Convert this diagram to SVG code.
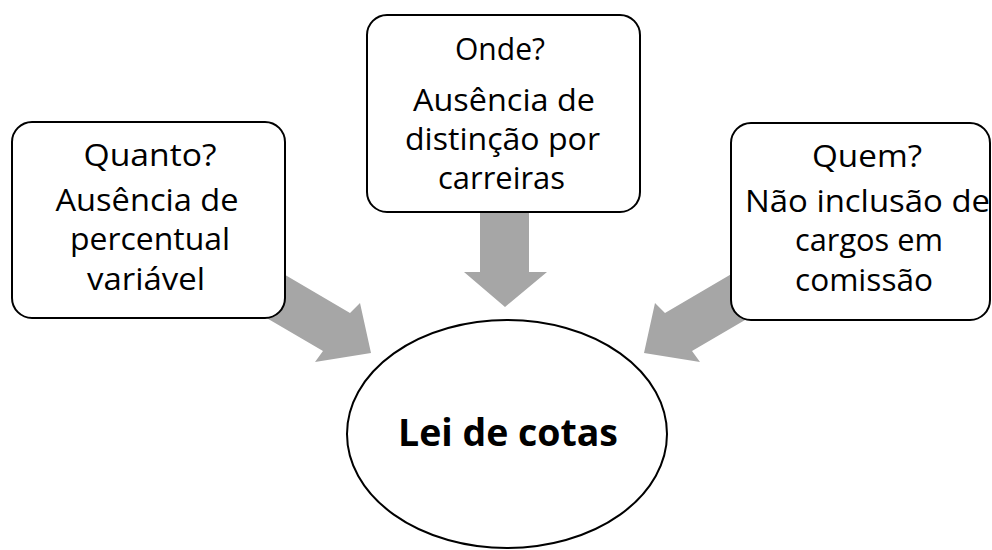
<svg xmlns="http://www.w3.org/2000/svg" width="992" height="550" viewBox="0 0 992 550">
<style>
.box{fill:#ffffff;stroke:#000000;stroke-width:2}
.arrow{fill:#a6a6a6;stroke:none}
.t{font-family:"Open Sans","Noto Sans","Liberation Sans",sans-serif;font-size:31px;fill:#000000;text-anchor:middle}
.b{font-family:"Open Sans","Noto Sans","Liberation Sans",sans-serif;font-size:37px;font-weight:bold;fill:#000000;text-anchor:middle}
</style>
<rect width="992" height="550" fill="#ffffff"/>
<g id="connectors">
<polygon class="arrow" points="258,259 350,313 360,303 371,353 315,362 323,351 258,313"/>
<polygon class="arrow" points="480,205 529,205 529,272 547,272 505,307 464,272 480,272"/>
<polygon class="arrow" points="757,259 665,313 655,303 644,353 700,362 692,351 757,313"/>
</g>
<g id="node-quanto">
<rect class="box" x="12" y="122" width="273" height="196" rx="20" ry="20"/>
<text class="t" x="150" y="166" textLength="133" lengthAdjust="spacingAndGlyphs">Quanto?</text>
<text class="t" x="147" y="211" textLength="183" lengthAdjust="spacingAndGlyphs">Ausência de</text>
<text class="t" x="150" y="250" textLength="160" lengthAdjust="spacingAndGlyphs">percentual</text>
<text class="t" x="146" y="290" textLength="118" lengthAdjust="spacingAndGlyphs">variável</text>
</g>
<g id="node-onde">
<rect class="box" x="367" y="15" width="273" height="197" rx="20" ry="20"/>
<text class="t" x="500" y="60" textLength="90" lengthAdjust="spacingAndGlyphs">Onde?</text>
<text class="t" x="504" y="111" textLength="182" lengthAdjust="spacingAndGlyphs">Ausência de</text>
<text class="t" x="502.5" y="150" textLength="195" lengthAdjust="spacingAndGlyphs">distinção por</text>
<text class="t" x="501.5" y="189" textLength="127" lengthAdjust="spacingAndGlyphs">carreiras</text>
</g>
<g id="node-quem">
<rect class="box" x="731" y="123" width="259" height="197" rx="20" ry="20"/>
<text class="t" x="867" y="167" textLength="110" lengthAdjust="spacingAndGlyphs">Quem?</text>
<text class="t" x="867.5" y="212" textLength="245" lengthAdjust="spacingAndGlyphs">Não inclusão de</text>
<text class="t" x="869" y="251" textLength="148" lengthAdjust="spacingAndGlyphs">cargos em</text>
<text class="t" x="864" y="291" textLength="138" lengthAdjust="spacingAndGlyphs">comissão</text>
</g>
<g id="node-lei">
<ellipse class="box" cx="507" cy="434" rx="160" ry="114"/>
<text class="b" x="508" y="446" textLength="220" lengthAdjust="spacingAndGlyphs">Lei de cotas</text>
</g>
</svg>
